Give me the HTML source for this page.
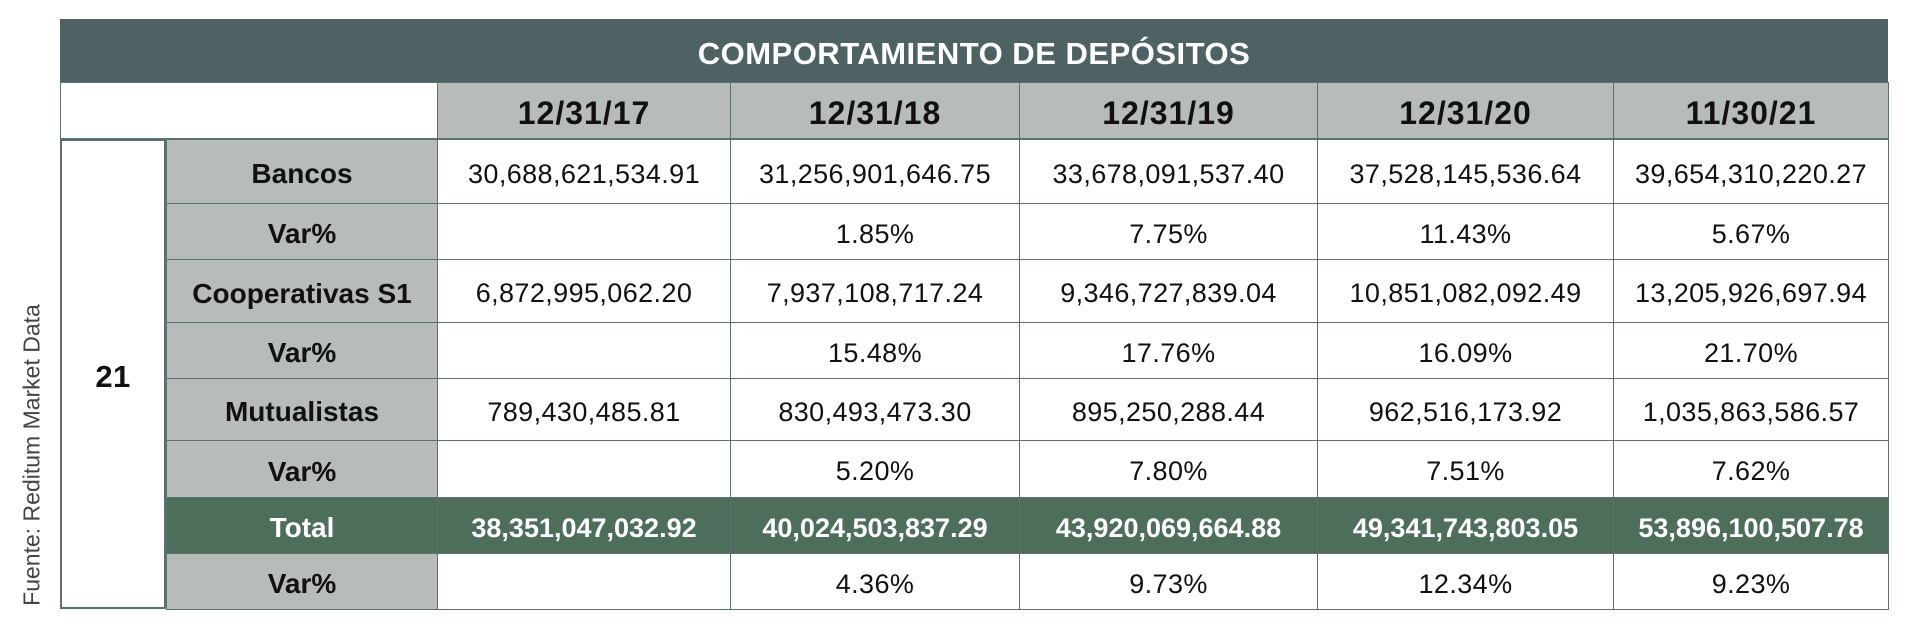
<!DOCTYPE html>
<html><head><meta charset="utf-8"><style>
body{margin:0;width:1914px;height:630px;background:#fff;position:relative;overflow:hidden;font-family:"Liberation Sans",sans-serif}
.c{position:absolute;box-sizing:border-box;display:flex;align-items:center;justify-content:center;border:1.5px solid #5d6f70;font-size:27px;letter-spacing:0.4px;color:#111;white-space:nowrap;padding-top:5px}
.g{background:#b8bcb9;font-weight:bold}
.t{background:#4d6e5b;color:#fff;font-weight:bold}
.h{background:#b8bcb9;font-weight:bold;font-size:32px;letter-spacing:1px}
</style></head><body>
<div class="c" style="left:60px;top:19px;width:1828px;height:64px;background:#4e6264;color:#fff;font-weight:bold;font-size:31px;letter-spacing:0.5px;border-color:#4e6264">COMPORTAMIENTO DE DEPÓSITOS</div>
<div class="c" style="left:60px;top:82px;width:378px;height:57px;background:#fff"></div>
<div class="c" style="left:60px;top:139px;width:106px;height:470px;font-weight:bold;font-size:31px;border-width:2.5px">21</div>
<div style="position:absolute;left:32px;top:455px;transform:translate(-50%,-50%) rotate(-90deg);font-size:23px;color:#444;white-space:nowrap">Fuente: Reditum Market Data</div>
<div id="t"></div>
<script>
var cols=[437,730,1019,1317,1613,1888];
var hd=["12/31/17","12/31/18","12/31/19","12/31/20","11/30/21"];
var rows=[[139,203,"Bancos",["30,688,621,534.91","31,256,901,646.75","33,678,091,537.40","37,528,145,536.64","39,654,310,220.27"]],
[203,259,"Var%",["","1.85%","7.75%","11.43%","5.67%"]],
[259,322,"Cooperativas S1",["6,872,995,062.20","7,937,108,717.24","9,346,727,839.04","10,851,082,092.49","13,205,926,697.94"]],
[322,378,"Var%",["","15.48%","17.76%","16.09%","21.70%"]],
[378,440,"Mutualistas",["789,430,485.81","830,493,473.30","895,250,288.44","962,516,173.92","1,035,863,586.57"]],
[440,497,"Var%",["","5.20%","7.80%","7.51%","7.62%"]],
[497,553,"Total",["38,351,047,032.92","40,024,503,837.29","43,920,069,664.88","49,341,743,803.05","53,896,100,507.78"],1],
[553,609,"Var%",["","4.36%","9.73%","12.34%","9.23%"]]];
var h="";
for(var i=0;i<5;i++)h+='<div class="c h" style="left:'+cols[i]+'px;top:82px;width:'+(cols[i+1]-cols[i]+1)+'px;height:57px">'+hd[i]+'</div>';
rows.forEach(function(r){
 var tt=r[4];
 h+='<div class="c '+(tt?'t':'g')+'" style="left:166px;top:'+r[0]+'px;width:272px;height:'+(r[1]-r[0]+1)+'px;font-size:28px;font-weight:bold;letter-spacing:0">'+r[2]+'</div>';
 for(var i=0;i<5;i++)h+='<div class="c '+(tt?'t':'')+'" style="left:'+cols[i]+'px;top:'+r[0]+'px;width:'+(cols[i+1]-cols[i]+1)+'px;height:'+(r[1]-r[0]+1)+'px;'+(tt?'letter-spacing:0':'')+'">'+r[3][i]+'</div>';
});
document.getElementById("t").innerHTML=h;
</script>
</body></html>
